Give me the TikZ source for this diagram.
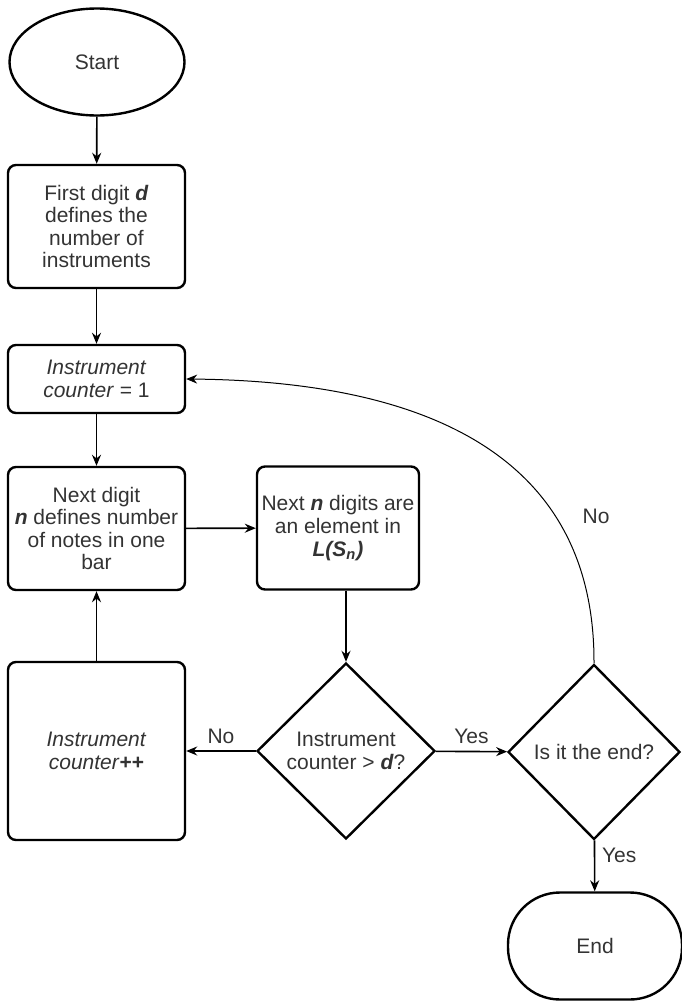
\documentclass[tikz,border=0pt]{standalone}
\usepackage{fontspec}
\setmainfont{Liberation Sans}
\usetikzlibrary{shapes.geometric, arrows.meta}

\begin{document}
\begin{tikzpicture}[>={Stealth[length=5.5pt, width=4.5pt]}, x=0.5pt, y=-0.5pt,
    font=\fontsize{10.5}{11.3}\selectfont, text=black!80,
    block/.style={draw, very thick, rounded corners=4pt, align=center,
        minimum width=88.5pt, inner sep=2pt},
    decision/.style={draw, very thick, diamond, align=center, inner sep=0pt},
    flow/.style={->, thick}]

    % Picture frame
    \useasboundingbox (0,0) rectangle (681,1001);

    % Start and first steps
    \node[draw, very thick, ellipse, minimum width=87.5pt, minimum height=53.5pt] (start) at (97,62) {Start};
    \node[block, minimum height=61.5pt] (digit) at (96.5,226.5)
        {First digit \textbf{\textit{d}}\\defines the\\number of\\instruments};
    \node[block, minimum height=34pt] (init) at (96.5,379)
        {\textit{Instrument}\\\textit{counter} = 1};

    % Reading one bar
    \node[block, minimum height=61.5pt] (bar) at (96.5,528.5)
        {Next digit\\\textbf{\textit{n}} defines number\\of notes in one\\bar};
    \node[block, minimum width=81pt, minimum height=61.5pt] (element) at (338,528)
        {Next \textbf{\textit{n}} digits are\\an element in\\\textbf{\textit{L(S\textsubscript{n})}}};

    % Decisions
    \node[decision, minimum width=89pt, minimum height=88pt] (check) at (346,751)
        {Instrument\\counter > \textbf{\textit{d}}?};
    \node[decision, minimum width=86pt, minimum height=87.5pt] (last) at (594,752)
        {Is it the end?};
    \node[block, minimum height=89pt] (incr) at (96.5,751)
        {\textit{Instrument}\\\textit{counter}\textbf{++}};

    % End
    \node[draw, very thick, rounded corners=26pt, minimum width=87pt, minimum height=53.5pt] (stop) at (595,946) {End};

    % Connectors
    \draw[flow] (start) -- (digit);
    \draw[flow] (digit) -- (init);
    \draw[flow] (init) -- (bar);
    \draw[flow] (bar) -- (element);
    \draw[flow] (element.south -| check.north) -- (check.north);
    \draw[flow] (check) -- node[above] {No} (incr);
    \draw[flow] (check) -- node[above] {Yes} (last);
    \draw[flow] (incr) -- (bar);
    \draw[flow] (last) -- node[pos=0.3, right] {Yes} (stop);
    \draw[->, line width=0.5pt] (last.north) .. controls (595,440) and (400,381) .. (init.east)
        node[pos=0.27, right=10pt] {No};

\end{tikzpicture}
\end{document}
